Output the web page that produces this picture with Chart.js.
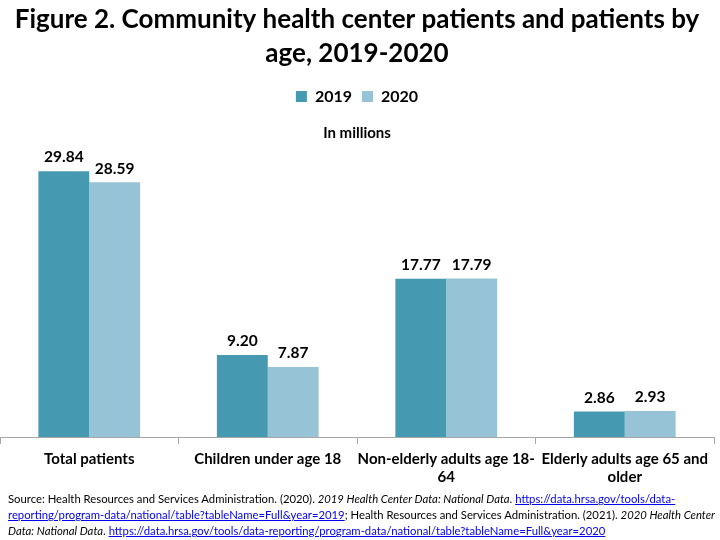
<!DOCTYPE html>
<html><head><meta charset="utf-8">
<script src="https://cdn.jsdelivr.net/npm/chart.js@4/dist/chart.umd.min.js"></script>
<style>
html,body{margin:0;padding:0;background:#fff;}
#wrap{position:relative;width:720px;height:540px;}
#c{position:absolute;left:0;top:0;}
#src{position:absolute;left:8px;top:491px;width:712px;font-family:Lato,"Open Sans",sans-serif;font-size:11.3px;line-height:16px;color:#000;}
#src a{color:#0000ee;text-decoration:underline;}
</style></head>
<body><div id="wrap"><canvas id="c" width="720" height="492"></canvas>
<div id="src">Source: Health Resources and Services Administration. (2020). <i>2019 Health Center Data: National Data</i>. <a>https://data.hrsa.gov/tools/data-reporting/program-data/national/table?tableName=Full&amp;year=2019</a>; Health Resources and Services Administration. (2021). <i>2020 Health Center Data: National Data</i>. <a>https://data.hrsa.gov/tools/data-reporting/program-data/national/table?tableName=Full&amp;year=2020</a></div>
</div>
<script>
const categories = ["Total patients", "Children under age 18", ["Non-elderly adults age 18-", "64"], ["Elderly adults age 65 and", "older"]];
const seriesNames = ["2019", "2020"];
const values2019 = [29.84, 9.20, 17.77, 2.86];
const values2020 = [28.59, 7.87, 17.79, 2.93];
const titleLines = ["Figure 2. Community health center patients and patients by", "age, 2019-2020"];
const subtitleText = "In millions";

const FONT = "Lato, 'Open Sans', sans-serif";
const labelPlugin = {
  id: 'valueLabels',
  afterDatasetsDraw(chart) {
    const ctx = chart.ctx;
    ctx.save();
    ctx.font = "bold 15.5px " + FONT;
    ctx.fillStyle = "#000";
    ctx.textAlign = "center";
    ctx.textBaseline = "bottom";
    chart.data.datasets.forEach((ds, i) => {
      const meta = chart.getDatasetMeta(i);
      meta.data.forEach((bar, j) => {
        ctx.fillText(ds.data[j].toFixed(2), bar.x, bar.y - 6);
      });
    });
    ctx.restore();
  }
};

new Chart(document.getElementById('c'), {
  type: 'bar',
  data: {
    labels: categories,
    datasets: [
      {label: seriesNames[0], data: values2019, backgroundColor: '#4599b0'},
      {label: seriesNames[1], data: values2020, backgroundColor: '#96c4d6'}
    ]
  },
  options: {
    responsive: false,
    animation: false,
    layout: {padding: {left: 0, right: 6, top: 0, bottom: 0}},
    datasets: {bar: {categoryPercentage: 0.57, barPercentage: 1}},
    plugins: {
      title: {display: true, text: titleLines, color: '#000', font: {family: FONT, size: 26, weight: 'bold', lineHeight: 1.3}, padding: {top: 3, bottom: 8}},
      legend: {display: true, position: 'top', weight: 1800, labels: {color: '#000', font: {family: FONT, size: 16, weight: 'bold'}, boxWidth: 11, boxHeight: 11, padding: 10}},
      subtitle: {display: true, text: subtitleText, position: 'top', color: '#000', font: {family: FONT, size: 15, weight: 'bold'}, padding: {top: 10, bottom: 4}},
      tooltip: {enabled: false}
    },
    scales: {
      x: {
        grid: {display: true, drawOnChartArea: false, drawTicks: true, tickLength: 7, color: '#a6a6a6', offset: true},
        border: {display: true, color: '#a6a6a6'},
        ticks: {color: '#000', font: {family: FONT, size: 15, weight: 'bold'}, maxRotation: 0, autoSkip: false, padding: 6}
      },
      y: {display: false, min: 0, max: 32.6}
    }
  },
  plugins: [labelPlugin]
});
</script>
</body></html>
